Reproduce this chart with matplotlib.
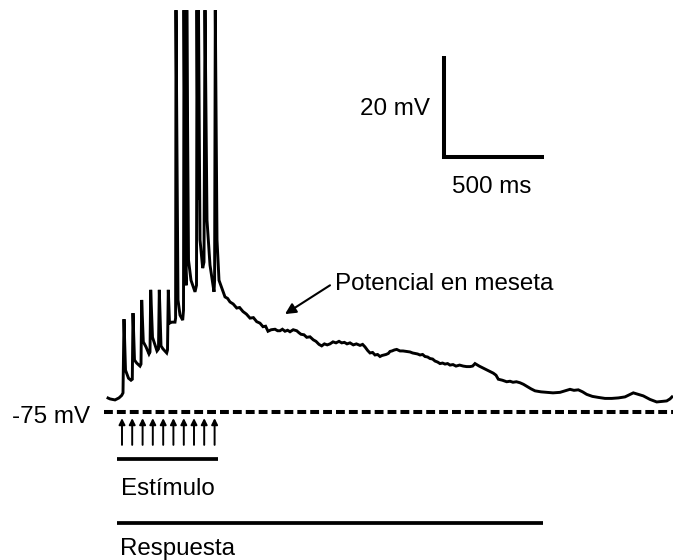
import matplotlib
matplotlib.use("Agg")
import matplotlib.pyplot as plt

plt.rcParams['font.family'] = ['Liberation Sans', 'DejaVu Sans']

# Membrane potential recording (time in ms, potential in mV)
time_ms = [
    3.5, 20, 45, 65, 78.5, 85, 90, 97.5, 105, 112.5, 125, 131.5,
    135, 142.5, 153.5, 170, 175,
    178.5, 186.5, 200, 215, 220,
    223.5, 232.5, 245, 255, 262.5,
    266.5, 275, 285, 303.5, 307.5,
    311.5, 317.5, 328.5, 345, 348,
    350, 360, 370, 383.5, 387.5,
    390, 397.5, 401, 404, 412.5, 425, 445, 452.5,
    455, 460, 462.5, 470, 483.5, 490,
    495, 505, 520, 540, 543,
    546.5, 555, 565, 578.5, 595, 608, 620, 636, 653.5, 668, 685, 702,
    720, 737, 753.5, 770, 785, 798, 810, 826, 845, 858, 870, 882, 895,
    908, 920, 936, 953.5, 965, 975, 990, 1003.5, 1020, 1036.5, 1050,
    1065, 1078.5, 1092, 1106, 1120, 1135, 1150, 1165, 1178.5, 1192,
    1205, 1220, 1236.5, 1252, 1270, 1283, 1295, 1308, 1320, 1333, 1345,
    1358, 1370, 1380, 1390, 1400, 1411.5, 1420, 1430, 1442, 1453.5,
    1470, 1485, 1502, 1520, 1533, 1545, 1558, 1570, 1583, 1595, 1608,
    1620, 1633, 1645, 1658, 1670, 1683, 1695, 1708, 1720, 1735, 1750,
    1768, 1786.5, 1803, 1820, 1833, 1845, 1866, 1886.5, 1911, 1936.5,
    1950, 1961.5, 1982, 2003.5, 2020, 2035, 2052, 2070, 2087, 2103.5,
    2125, 2145, 2175, 2203.5, 2235, 2270, 2295, 2320, 2340, 2361.5,
    2383, 2403.5, 2432, 2461.5, 2495, 2528.5, 2562, 2595, 2616, 2636.5,
    2661, 2686.5, 2720, 2753.5, 2778, 2803.5, 2820, 2835,
]
potential_mv = [
    -72.1, -72.4, -72.6, -72.2, -71.7, -71.2, -56.6, -66.7, -67.5, -68.3, -68.7, -68.5,
    -55.4, -64.7, -65.3, -65.9, -65.5,
    -52.8, -61.1, -62.1, -63.5, -63.1,
    -50.8, -60.2, -61.7, -62.9, -62.5,
    -50.8, -61.9, -62.5, -63.3, -62.7,
    -50.8, -57.4, -57.2, -57.2, -56.4,
    4.6, -52.8, -55.8, -56.8, -54.8,
    4.6, -46.9, -49.9, 4.6, -44.9, -48.9, -51.2, -49.9,
    4.6, -33.0, 4.6, -40.9, -46.5, -45.3,
    4.6, -37.0, -45.9, -51.2, -48.9,
    4.6, -40.9, -48.9, -50.4, -52.2, -52.5, -53.2, -53.6, -54.4, -54.3, -55.1, -55.6,
    -56.4, -56.3, -57.1, -57.4, -58.1, -58.0, -59.0, -58.7, -58.6, -58.9, -58.9, -58.6, -59.0,
    -58.8, -59.1, -58.7, -58.9, -59.3, -59.6, -59.7, -60.2, -60.1, -60.7, -61.0,
    -61.6, -61.9, -61.5, -61.7, -61.5, -61.1, -61.3, -61.0, -61.3, -61.2,
    -61.5, -61.3, -61.7, -61.5, -61.8, -61.6, -62.1, -62.8, -63.3, -63.2, -63.7,
    -63.6, -64.0, -63.8, -63.7, -63.6, -63.4, -63.0, -62.9, -62.7, -62.6,
    -62.9, -62.9, -63.0, -63.1, -63.3, -63.4, -63.5, -63.7, -63.6, -64.0, -64.1,
    -64.4, -64.5, -64.9, -65.1, -65.4, -65.3, -65.5, -65.4, -65.7, -65.6, -65.9,
    -65.7, -65.9, -66.0, -66.0, -65.9, -65.4, -65.9, -66.3, -66.8, -67.3,
    -67.7, -68.5, -68.7, -69.0, -68.9, -69.1, -69.0, -69.2, -69.5, -69.9,
    -70.4, -70.8, -71.0, -71.1, -71.2, -71.1, -70.8, -70.5, -70.7, -70.6,
    -71.0, -71.5, -71.9, -72.1, -72.3, -72.3, -72.2, -72.0, -71.6, -71.2,
    -71.5, -71.8, -72.5, -73.0, -72.9, -72.8, -72.4, -71.8,
]

resting_mv = -75
stimulus_times_ms = [80, 131, 183, 234, 286, 337, 389, 440, 491, 543]
stimulus_window_ms = [55, 560]
response_window_ms = [55, 2185]
scale_mv = 20
scale_ms = 500

# Layout of the decorations (data coordinates)
XLIM = (-530, 2835)
YLIM = (-104.3, 6.6)
FS = 17.4
LW_TRACE = 2.1
ARROW_BOTTOM, ARROW_TOP = -81.5, -76.2
STIM_BAR_Y = -84.2
RESP_BAR_Y = -97.0
SCALE_X0, SCALE_Y0 = 1690, -24.5

fig = plt.figure(figsize=(6.73, 5.60), dpi=100)
ax = fig.add_axes([0, 0, 1, 1])
ax.set_xlim(*XLIM)
ax.set_ylim(*YLIM)
ax.axis('off')

# voltage trace
ax.plot(time_ms, potential_mv, color='black', lw=LW_TRACE,
        solid_joinstyle='miter', solid_capstyle='butt')

# resting potential reference
base, = ax.plot([-10, XLIM[1]], [resting_mv, resting_mv], color='black', lw=2.9)
base.set_dashes((2.2, 1.0))
ax.text(-78, resting_mv - 2.2, '-75 mV', fontsize=FS, ha='right', va='baseline')

# stimulus arrows
for t in stimulus_times_ms:
    ax.annotate('', xy=(t, ARROW_TOP), xytext=(t, ARROW_BOTTOM),
                arrowprops=dict(arrowstyle='-|>', color='black', lw=1.4,
                                mutation_scale=9, shrinkA=0, shrinkB=0))

# stimulus and response bars
ax.plot(stimulus_window_ms, [STIM_BAR_Y] * 2, color='black', lw=2.7,
        solid_capstyle='butt')
ax.text(stimulus_window_ms[0] + 22, -91.4, 'Estímulo', fontsize=FS,
        ha='left', va='baseline')
ax.plot(response_window_ms, [RESP_BAR_Y] * 2, color='black', lw=2.7,
        solid_capstyle='butt')
ax.text(response_window_ms[0] + 15, -103.3, 'Respuesta', fontsize=FS,
        ha='left', va='baseline')

# scale bar
ax.plot([SCALE_X0, SCALE_X0, SCALE_X0 + scale_ms],
        [SCALE_Y0 + scale_mv, SCALE_Y0, SCALE_Y0],
        color='black', lw=2.9, solid_joinstyle='miter', solid_capstyle='butt')
ax.text(SCALE_X0 - 70, -16.2, f'{scale_mv} mV', fontsize=FS,
        ha='right', va='baseline')
ax.text(SCALE_X0 + 240, -31.6, f'{scale_ms} ms', fontsize=FS,
        ha='center', va='baseline')

# plateau annotation
ax.annotate('', xy=(895, -55.6), xytext=(1120, -49.9),
            arrowprops=dict(arrowstyle='-|>', color='black', lw=1.5,
                            mutation_scale=16, shrinkA=0, shrinkB=0))
ax.text(1145, -50.8, 'Potencial en meseta', fontsize=FS,
        ha='left', va='baseline')

fig.savefig('out.png', dpi=100, facecolor='white')
